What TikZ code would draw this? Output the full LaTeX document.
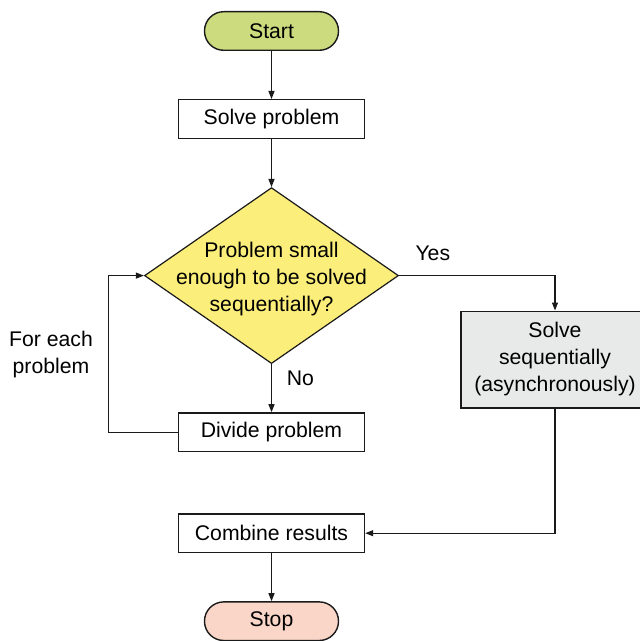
\documentclass[tikz,border=0pt]{standalone}
\usepackage{fontspec}
\setmainfont{Liberation Sans}
\usepackage{xcolor}
\usetikzlibrary{arrows.meta, positioning, shapes.geometric}
\definecolor{cStart}{HTML}{CBDB7D}
\definecolor{cStop}{HTML}{F9D6C8}
\definecolor{cAsk}{HTML}{FBEE7A}
\definecolor{cSeq}{HTML}{E8E9E9}
\definecolor{cLine}{HTML}{1A1A1A}
\begin{document}
\begin{tikzpicture}[
  x=0.5pt, y=-0.5pt,
  node distance=24pt,
  font=\fontsize{10.6}{13.5}\selectfont,
  box/.style={draw=cLine, line width=0.7pt, fill=white, align=center,
              inner sep=2pt, minimum width=93pt, minimum height=19.3pt},
  term/.style={box, rounded corners=9.6pt, minimum width=67pt},
  ask/.style={diamond, draw=cLine, line width=0.6pt, fill=cAsk, inner sep=0pt,
              minimum width=127pt, minimum height=88pt},
  lbl/.style={inner sep=0pt, align=center},
  arr/.style={-{Triangle[length=4pt, width=3pt]}, cLine, line width=0.6pt}]
\useasboundingbox (0,0) rectangle (640,641);
\node[term, fill=cStart] (st) at (271.5,31) {Start};
\node[box, below=of st] (sp) {Solve problem};
\node[ask, below=of sp] (q) {};
\node[lbl, yshift=-1.5pt] (qt) at (q.center) {Problem small\\enough to be solved\\sequentially?};
\node[box, below=of q] (dv) {Divide problem};
\node[box, below=30.5pt of dv] (cb) {Combine results};
\node[term, fill=cStop, below=of cb] (sq) {Stop};
\node[box, fill=cSeq, minimum width=94pt, minimum height=48.3pt] (ss) at (555,359.5)
  {Solve\\sequentially\\(asynchronously)};
\node[lbl, above right=7pt and 8pt of q.east] (yes) {Yes};
\node[lbl, below right=3pt and 7.5pt of q.south] (no) {No};
\node[lbl] (fe) at (51,355) {For each\\problem};
\foreach \a/\b in {st/sp, sp/q, q/dv, cb/sq} \draw[arr] (\a) -- (\b);
\draw[arr] (q.east) -| (ss.north);
\draw[arr] (ss.south) |- (cb.east);
\draw[arr] (dv.west) -- ++(-69,0) |- (q.west);
\end{tikzpicture}
\end{document}
